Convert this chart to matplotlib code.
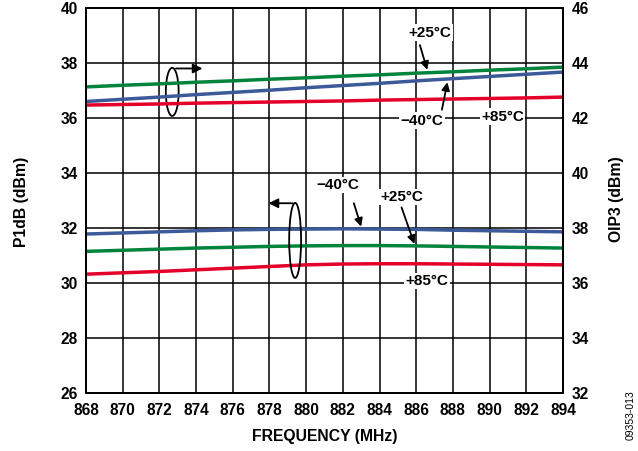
import matplotlib.pyplot as plt
from matplotlib.patches import Ellipse

plt.rcParams['font.family'] = ['Liberation Sans', 'DejaVu Sans']
plt.rcParams['font.weight'] = 'bold'

freq = [868, 870, 872, 874, 876, 878, 880, 882, 884, 886, 888, 890, 892, 894]

p1db_m40 = [31.78, 31.82, 31.86, 31.90, 31.93, 31.95, 31.96, 31.97, 31.96, 31.95, 31.92, 31.90, 31.88, 31.86]
p1db_25 = [31.15, 31.19, 31.23, 31.27, 31.30, 31.33, 31.35, 31.36, 31.36, 31.35, 31.33, 31.31, 31.29, 31.27]
p1db_85 = [30.32, 30.37, 30.42, 30.48, 30.54, 30.60, 30.66, 30.69, 30.70, 30.70, 30.69, 30.68, 30.67, 30.66]

oip3_m40 = [42.60, 42.68, 42.76, 42.85, 42.93, 43.01, 43.10, 43.18, 43.26, 43.35, 43.43, 43.51, 43.59, 43.67]
oip3_25 = [43.13, 43.19, 43.24, 43.30, 43.35, 43.41, 43.46, 43.52, 43.57, 43.63, 43.68, 43.74, 43.79, 43.85]
oip3_85 = [42.47, 42.49, 42.51, 42.54, 42.56, 42.58, 42.60, 42.62, 42.65, 42.67, 42.69, 42.71, 42.73, 42.76]

green = '#00843d'
blue = '#3c5a9a'
red = '#e4002b'

fig = plt.figure(figsize=(6.38, 4.51), dpi=100)
ax = fig.add_axes([0.1348, 0.1286, 0.7476, 0.8537])
ax2 = ax.twinx()

ax.set_xlim(868, 894)
ax.set_ylim(26, 40)
ax2.set_ylim(32, 46)
ax.set_xticks(range(868, 895, 2))
ax.set_yticks(range(26, 41, 2))
ax2.set_yticks(range(32, 47, 2))
ax.grid(True, color='black', lw=1.1)
ax.tick_params(axis='y', length=0, labelsize=11.2, pad=6)
ax.tick_params(axis='x', length=0, labelsize=11.2, pad=7)
ax2.tick_params(length=0, labelsize=11.2, pad=6)
for a in (ax, ax2):
    for s in a.spines.values():
        s.set_linewidth(1.3)

fig.text(324.5 / 638, 1 - 437 / 451, 'FREQUENCY (MHz)', fontsize=11.3, fontweight='bold',
         ha='center', va='center')
fig.text(22 / 638, 1 - 202 / 451, 'P1dB (dBm)', fontsize=11.3, fontweight='bold',
         rotation=90, ha='center', va='center')
fig.text(617 / 638, 1 - 199 / 451, 'OIP3 (dBm)', fontsize=11.3, fontweight='bold',
         rotation=90, ha='center', va='center')

ax.plot(freq, p1db_m40, color=blue, lw=2.5)
ax.plot(freq, p1db_25, color=green, lw=2.5)
ax.plot(freq, p1db_85, color=red, lw=2.5)
ax2.plot(freq, oip3_25, color=green, lw=2.5)
ax2.plot(freq, oip3_m40, color=blue, lw=2.5)
ax2.plot(freq, oip3_85, color=red, lw=2.5)

# ellipses + direction arrows
ax2.add_patch(Ellipse((872.7, 42.95), 0.7, 1.75, fill=False, lw=1.3, color='black'))
ax2.annotate('', xy=(874.5, 43.8), xytext=(872.75, 43.8),
             arrowprops=dict(arrowstyle='-|>', color='black', lw=1.3, mutation_scale=14))
ax2.add_patch(Ellipse((879.4, 31.55 + 6), 0.65, 2.73, fill=False, lw=1.3, color='black'))
ax2.annotate('', xy=(877.8, 38.9), xytext=(879.4, 38.9),
             arrowprops=dict(arrowstyle='-|>', color='black', lw=1.3, mutation_scale=14))

box = dict(facecolor='white', edgecolor='none', pad=1)
arw = dict(arrowstyle='-|>', color='black', lw=1.3, mutation_scale=12, shrinkA=0, shrinkB=0)

# OIP3 labels
ax2.text(886.75, 45.1, '+25°C', ha='center', va='center', fontsize=11, bbox=box)
ax2.annotate('', xy=(886.6, 43.75), xytext=(886.2, 44.65), arrowprops=arw)
ax2.text(886.3, 41.9, '\u221240°C', ha='center', va='center', fontsize=11, bbox=box)
ax2.annotate('', xy=(887.7, 43.3), xytext=(887.4, 42.3), arrowprops=arw)
ax2.text(890.7, 42.05, '+85°C', ha='center', va='center', fontsize=11, bbox=box)

# P1dB labels
ax.text(881.7, 33.56, '\u221240°C', ha='center', va='center', fontsize=11, bbox=box)
ax.annotate('', xy=(883.0, 32.05), xytext=(882.6, 32.9), arrowprops=arw)
ax.text(885.2, 33.13, '+25°C', ha='center', va='center', fontsize=11, bbox=box)
ax.annotate('', xy=(885.9, 31.42), xytext=(885.2, 32.75), arrowprops=arw)
ax.text(886.6, 30.07, '+85°C', ha='center', va='center', fontsize=11, bbox=box)

fig.text(631 / 638, 1 - 415 / 451, '09353-013', rotation=90, fontsize=7.5, fontweight='normal',
         ha='center', va='center')

fig.savefig('out.png', dpi=100)
